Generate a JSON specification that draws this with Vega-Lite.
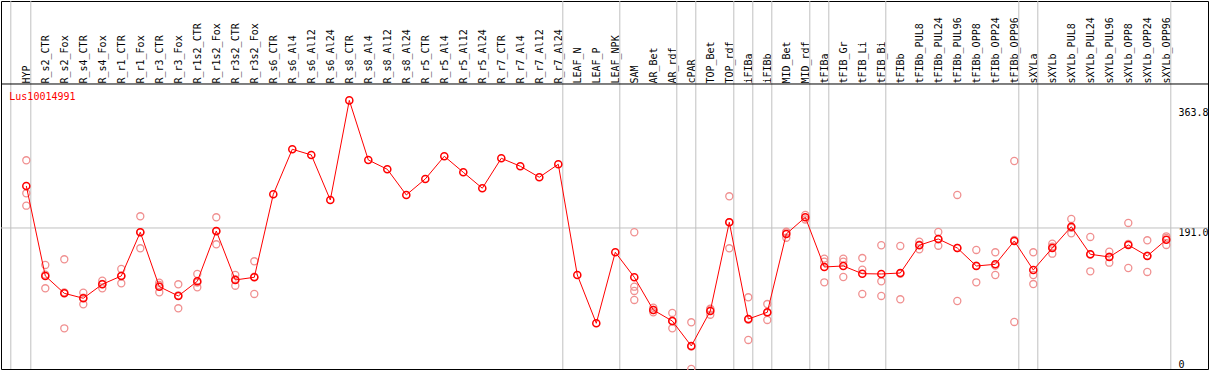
{
  "$schema": "https://vega.github.io/schema/vega-lite/v6.json",
  "autosize": {"type": "none"},
  "padding": {"left": 1, "top": 1, "right": 1, "bottom": 1},
  "width": 1207,
  "height": 368,
  "background": "white",
  "config": {
    "view": {"stroke": "black", "strokeWidth": 1},
    "font": "DejaVu Sans Mono"
  },
  "datasets": {
    "means": [
      {"cat": "HYP", "v": 247.9}, {"cat": "R_s2_CTR", "v": 126.0}, {"cat": "R_s2_Fox", "v": 102.5},
      {"cat": "R_s4_CTR", "v": 95.8}, {"cat": "R_s4_Fox", "v": 114.7}, {"cat": "R_r1_CTR", "v": 126.0},
      {"cat": "R_r1_Fox", "v": 185.2}, {"cat": "R_r3_CTR", "v": 111.5}, {"cat": "R_r3_Fox", "v": 98.9},
      {"cat": "R_r1s2_CTR", "v": 118.8}, {"cat": "R_r1s2_Fox", "v": 186.9}, {"cat": "R_r3s2_CTR", "v": 120.6},
      {"cat": "R_r3s2_Fox", "v": 124.2}, {"cat": "R_s6_CTR", "v": 236.6}, {"cat": "R_s6_Al4", "v": 297.6},
      {"cat": "R_s6_Al12", "v": 289.9}, {"cat": "R_s6_Al24", "v": 228.9}, {"cat": "R_s8_CTR", "v": 363.8},
      {"cat": "R_s8_Al4", "v": 283.1}, {"cat": "R_s8_Al12", "v": 270.5}, {"cat": "R_s8_Al24", "v": 235.7},
      {"cat": "R_r5_CTR", "v": 257.4}, {"cat": "R_r5_Al4", "v": 288.1}, {"cat": "R_r5_Al12", "v": 266.4},
      {"cat": "R_r5_Al24", "v": 244.8}, {"cat": "R_r7_CTR", "v": 285.4}, {"cat": "R_r7_Al4", "v": 274.6},
      {"cat": "R_r7_Al12", "v": 259.7}, {"cat": "R_r7_Al24", "v": 277.3}, {"cat": "LEAF_N", "v": 127.3},
      {"cat": "LEAF_P", "v": 61.9}, {"cat": "LEAF_NPK", "v": 158.1}, {"cat": "SAM", "v": 124.2},
      {"cat": "AR_Bet", "v": 79.9}, {"cat": "AR_rdf", "v": 65.0}, {"cat": "cPAR", "v": 31.2},
      {"cat": "TOP_Bet", "v": 78.6}, {"cat": "TOP_rdf", "v": 198.7}, {"cat": "iFIBa", "v": 67.7},
      {"cat": "iFIBb", "v": 76.8}, {"cat": "MID_Bet", "v": 182.9}, {"cat": "MID_rdf", "v": 205.5},
      {"cat": "tFIBa", "v": 138.2}, {"cat": "tFIB_Gr", "v": 139.5}, {"cat": "tFIB_Li", "v": 129.1},
      {"cat": "tFIB_Bi", "v": 128.7}, {"cat": "tFIBb", "v": 130.0}, {"cat": "tFIBb_PUL8", "v": 167.6},
      {"cat": "tFIBb_PUL24", "v": 176.1}, {"cat": "tFIBb_PUL96", "v": 163.9}, {"cat": "tFIBb_OPP8", "v": 139.5},
      {"cat": "tFIBb_OPP24", "v": 141.8}, {"cat": "tFIBb_OPP96", "v": 173.4}, {"cat": "sXYLa", "v": 134.1},
      {"cat": "sXYLb", "v": 163.9}, {"cat": "sXYLb_PUL8", "v": 192.7}, {"cat": "sXYLb_PUL24", "v": 155.4},
      {"cat": "sXYLb_PUL96", "v": 151.7}, {"cat": "sXYLb_OPP8", "v": 168.0}, {"cat": "sXYLb_OPP24", "v": 153.1},
      {"cat": "sXYLb_OPP96", "v": 175.1}
    ],
    "reps": [
      {"cat": "HYP", "v": 282.7}, {"cat": "HYP", "v": 238.0}, {"cat": "HYP", "v": 221.2},
      {"cat": "R_s2_CTR", "v": 140.9}, {"cat": "R_s2_CTR", "v": 109.3}, {"cat": "R_s2_CTR", "v": 127.8},
      {"cat": "R_s2_Fox", "v": 148.6}, {"cat": "R_s2_Fox", "v": 55.1}, {"cat": "R_s2_Fox", "v": 103.8},
      {"cat": "R_s4_CTR", "v": 103.3}, {"cat": "R_s4_CTR", "v": 87.6}, {"cat": "R_s4_CTR", "v": 96.5},
      {"cat": "R_s4_Fox", "v": 119.6}, {"cat": "R_s4_Fox", "v": 109.3}, {"cat": "R_s4_Fox", "v": 115.2},
      {"cat": "R_r1_CTR", "v": 135.5}, {"cat": "R_r1_CTR", "v": 116.1}, {"cat": "R_r1_CTR", "v": 126.4},
      {"cat": "R_r1_Fox", "v": 206.8}, {"cat": "R_r1_Fox", "v": 163.5}, {"cat": "R_r1_Fox", "v": 185.3},
      {"cat": "R_r3_CTR", "v": 116.9}, {"cat": "R_r3_CTR", "v": 103.9}, {"cat": "R_r3_CTR", "v": 113.7},
      {"cat": "R_r3_Fox", "v": 114.7}, {"cat": "R_r3_Fox", "v": 82.2}, {"cat": "R_r3_Fox", "v": 99.8},
      {"cat": "R_r1s2_CTR", "v": 128.7}, {"cat": "R_r1s2_CTR", "v": 110.7}, {"cat": "R_r1s2_CTR", "v": 117.0},
      {"cat": "R_r1s2_Fox", "v": 205.5}, {"cat": "R_r1s2_Fox", "v": 168.9}, {"cat": "R_r1s2_Fox", "v": 186.3},
      {"cat": "R_r3s2_CTR", "v": 127.3}, {"cat": "R_r3s2_CTR", "v": 112.8}, {"cat": "R_r3s2_CTR", "v": 121.7},
      {"cat": "R_r3s2_Fox", "v": 145.9}, {"cat": "R_r3s2_Fox", "v": 101.6}, {"cat": "R_r3s2_Fox", "v": 125.1},
      {"cat": "SAM", "v": 185.2}, {"cat": "SAM", "v": 111.5}, {"cat": "SAM", "v": 105.7}, {"cat": "SAM", "v": 93.5},
      {"cat": "AR_Bet", "v": 83.0}, {"cat": "AR_Bet", "v": 76.8}, {"cat": "AR_Bet", "v": 79.9},
      {"cat": "AR_rdf", "v": 75.9}, {"cat": "AR_rdf", "v": 55.1}, {"cat": "AR_rdf", "v": 65.0},
      {"cat": "cPAR", "v": 63.3}, {"cat": "cPAR", "v": 0}, {"cat": "cPAR", "v": 30.3},
      {"cat": "TOP_Bet", "v": 81.7}, {"cat": "TOP_Bet", "v": 73.5}, {"cat": "TOP_Bet", "v": 80.6},
      {"cat": "TOP_rdf", "v": 233.9}, {"cat": "TOP_rdf", "v": 163.5}, {"cat": "TOP_rdf", "v": 198.7},
      {"cat": "iFIBa", "v": 97.1}, {"cat": "iFIBa", "v": 39.3}, {"cat": "iFIBa", "v": 66.7},
      {"cat": "iFIBb", "v": 88.0}, {"cat": "iFIBb", "v": 66.4}, {"cat": "iFIBb", "v": 76.0},
      {"cat": "MID_Bet", "v": 186.0}, {"cat": "MID_Bet", "v": 177.8}, {"cat": "MID_Bet", "v": 184.9},
      {"cat": "MID_rdf", "v": 208.6}, {"cat": "MID_rdf", "v": 202.5},
      {"cat": "tFIBa", "v": 149.5}, {"cat": "tFIBa", "v": 145.3}, {"cat": "tFIBa", "v": 117.4},
      {"cat": "tFIB_Gr", "v": 149.4}, {"cat": "tFIB_Gr", "v": 145.3}, {"cat": "tFIB_Gr", "v": 124.6},
      {"cat": "tFIB_Li", "v": 150.3}, {"cat": "tFIB_Li", "v": 134.5}, {"cat": "tFIB_Li", "v": 101.6},
      {"cat": "tFIB_Bi", "v": 167.6}, {"cat": "tFIB_Bi", "v": 118.8}, {"cat": "tFIB_Bi", "v": 98.9},
      {"cat": "tFIBb", "v": 166.6}, {"cat": "tFIBb", "v": 94.4}, {"cat": "tFIBb", "v": 129.0},
      {"cat": "tFIBb_PUL8", "v": 172.4}, {"cat": "tFIBb_PUL8", "v": 162.1}, {"cat": "tFIBb_PUL8", "v": 168.3},
      {"cat": "tFIBb_PUL24", "v": 185.6}, {"cat": "tFIBb_PUL24", "v": 167.0}, {"cat": "tFIBb_PUL24", "v": 175.7},
      {"cat": "tFIBb_PUL96", "v": 235.7}, {"cat": "tFIBb_PUL96", "v": 92.1}, {"cat": "tFIBb_PUL96", "v": 163.9},
      {"cat": "tFIBb_OPP8", "v": 161.2}, {"cat": "tFIBb_OPP8", "v": 117.4}, {"cat": "tFIBb_OPP8", "v": 139.9},
      {"cat": "tFIBb_OPP24", "v": 158.1}, {"cat": "tFIBb_OPP24", "v": 127.3}, {"cat": "tFIBb_OPP24", "v": 140.0},
      {"cat": "tFIBb_OPP96", "v": 281.7}, {"cat": "tFIBb_OPP96", "v": 63.7}, {"cat": "tFIBb_OPP96", "v": 174.8},
      {"cat": "sXYLa", "v": 158.1}, {"cat": "sXYLa", "v": 127.3}, {"cat": "sXYLa", "v": 115.1},
      {"cat": "sXYLb", "v": 169.7}, {"cat": "sXYLb", "v": 156.2}, {"cat": "sXYLb", "v": 165.8},
      {"cat": "sXYLb_PUL8", "v": 203.2}, {"cat": "sXYLb_PUL8", "v": 183.8}, {"cat": "sXYLb_PUL8", "v": 191.1},
      {"cat": "sXYLb_PUL24", "v": 178.8}, {"cat": "sXYLb_PUL24", "v": 132.3}, {"cat": "sXYLb_PUL24", "v": 155.1},
      {"cat": "sXYLb_PUL96", "v": 158.9}, {"cat": "sXYLb_PUL96", "v": 144.0}, {"cat": "sXYLb_PUL96", "v": 152.2},
      {"cat": "sXYLb_OPP8", "v": 197.8}, {"cat": "sXYLb_OPP8", "v": 136.8}, {"cat": "sXYLb_OPP8", "v": 169.4},
      {"cat": "sXYLb_OPP24", "v": 174.3}, {"cat": "sXYLb_OPP24", "v": 131.4}, {"cat": "sXYLb_OPP24", "v": 153.6},
      {"cat": "sXYLb_OPP96", "v": 179.7}, {"cat": "sXYLb_OPP96", "v": 168.0}, {"cat": "sXYLb_OPP96", "v": 177.6}
    ],
    "seps": [
      {"cat": "HYP"}, {"cat": "R_r7_Al24"}, {"cat": "LEAF_NPK"}, {"cat": "AR_rdf"}, {"cat": "cPAR"},
      {"cat": "TOP_rdf"}, {"cat": "iFIBa"}, {"cat": "iFIBb"}, {"cat": "MID_rdf"}, {"cat": "tFIBa"},
      {"cat": "tFIB_Bi"}, {"cat": "tFIBb_OPP96"}, {"cat": "sXYLa"}, {"cat": "sXYLb_OPP96"}
    ],
    "first": [{"cat": "HYP"}],
    "titles": [{"cat": "HYP", "v": 368.4, "label": "Lus10014991"}]
  },
  "layer": [
    {
      "data": {"name": "seps"},
      "mark": {"type": "rule", "color": "#c0c0c0", "strokeWidth": 1, "xOffset": 4.5},
      "encoding": {
        "x": {
          "field": "cat", "type": "ordinal",
          "scale": {
            "type": "point", "range": [25.3, 1165.3], "padding": 0,
            "domain": ["HYP","R_s2_CTR","R_s2_Fox","R_s4_CTR","R_s4_Fox","R_r1_CTR","R_r1_Fox","R_r3_CTR","R_r3_Fox","R_r1s2_CTR","R_r1s2_Fox","R_r3s2_CTR","R_r3s2_Fox","R_s6_CTR","R_s6_Al4","R_s6_Al12","R_s6_Al24","R_s8_CTR","R_s8_Al4","R_s8_Al12","R_s8_Al24","R_r5_CTR","R_r5_Al4","R_r5_Al12","R_r5_Al24","R_r7_CTR","R_r7_Al4","R_r7_Al12","R_r7_Al24","LEAF_N","LEAF_P","LEAF_NPK","SAM","AR_Bet","AR_rdf","cPAR","TOP_Bet","TOP_rdf","iFIBa","iFIBb","MID_Bet","MID_rdf","tFIBa","tFIB_Gr","tFIB_Li","tFIB_Bi","tFIBb","tFIBb_PUL8","tFIBb_PUL24","tFIBb_PUL96","tFIBb_OPP8","tFIBb_OPP24","tFIBb_OPP96","sXYLa","sXYLb","sXYLb_PUL8","sXYLb_PUL24","sXYLb_PUL96","sXYLb_OPP8","sXYLb_OPP24","sXYLb_OPP96"]
          },
          "axis": {
            "orient": "top", "offset": -83, "title": null, "labelAngle": -90,
            "labelAlign": "left", "labelBaseline": "middle",
            "ticks": false, "tickSize": 0, "domain": false, "grid": false,
            "labelPadding": 1, "labelFont": "DejaVu Sans Mono", "labelFontSize": 10,
            "labelColor": "black", "labelOverlap": false
          }
        }
      }
    },
    {
      "data": {"name": "first"},
      "mark": {"type": "rule", "color": "#c0c0c0", "strokeWidth": 1, "xOffset": -15.5},
      "encoding": {"x": {"field": "cat", "type": "ordinal"}}
    },
    {
      "data": {"name": "first"},
      "mark": {"type": "rule", "color": "#c0c0c0", "strokeWidth": 1},
      "encoding": {"y": {"datum": 191, "type": "quantitative"}}
    },
    {
      "data": {"name": "first"},
      "mark": {"type": "rule", "color": "black", "strokeWidth": 1},
      "encoding": {"y": {"datum": 386.0, "type": "quantitative"}}
    },
    {
      "data": {"name": "reps"},
      "mark": {"type": "point", "shape": "circle", "filled": false, "size": 50, "strokeWidth": 1.3, "color": "#f09090", "opacity": 1},
      "encoding": {
        "x": {"field": "cat", "type": "ordinal"},
        "y": {"field": "v", "type": "quantitative"}
      }
    },
    {
      "data": {"name": "means"},
      "mark": {"type": "line", "color": "#ff0000", "strokeWidth": 1},
      "encoding": {
        "x": {"field": "cat", "type": "ordinal"},
        "y": {"field": "v", "type": "quantitative"}
      }
    },
    {
      "data": {"name": "means"},
      "mark": {"type": "point", "shape": "circle", "filled": false, "size": 50, "strokeWidth": 1.5, "color": "#ff0000", "opacity": 1},
      "encoding": {
        "x": {"field": "cat", "type": "ordinal"},
        "y": {
          "field": "v", "type": "quantitative",
          "scale": {"domain": [0, 498.4], "nice": false, "zero": false},
          "axis": {
            "orient": "right", "offset": -30, "title": null,
            "values": [0, 191, 363.8],
            "labelExpr": "datum.value == 0 ? '0' : format(datum.value, '.1f')",
            "ticks": false, "tickSize": 0, "domain": false, "grid": false,
            "labelPadding": 0, "labelAlign": "left",
            "labelBaseline": {"condition": {"test": "datum.value == 0", "value": "bottom"}, "value": "top"},
            "labelOffset": {"condition": {"test": "datum.value > 300", "value": 7}, "value": 0},
            "labelFont": "DejaVu Sans Mono", "labelFontSize": 10, "labelColor": "black",
            "labelOverlap": false
          }
        }
      }
    },
    {
      "data": {"name": "titles"},
      "mark": {"type": "text", "color": "#ff0000", "align": "left", "baseline": "middle", "dx": -17, "font": "DejaVu Sans Mono", "fontSize": 10},
      "encoding": {
        "x": {"field": "cat", "type": "ordinal"},
        "y": {"field": "v", "type": "quantitative"},
        "text": {"field": "label"}
      }
    }
  ]
}
